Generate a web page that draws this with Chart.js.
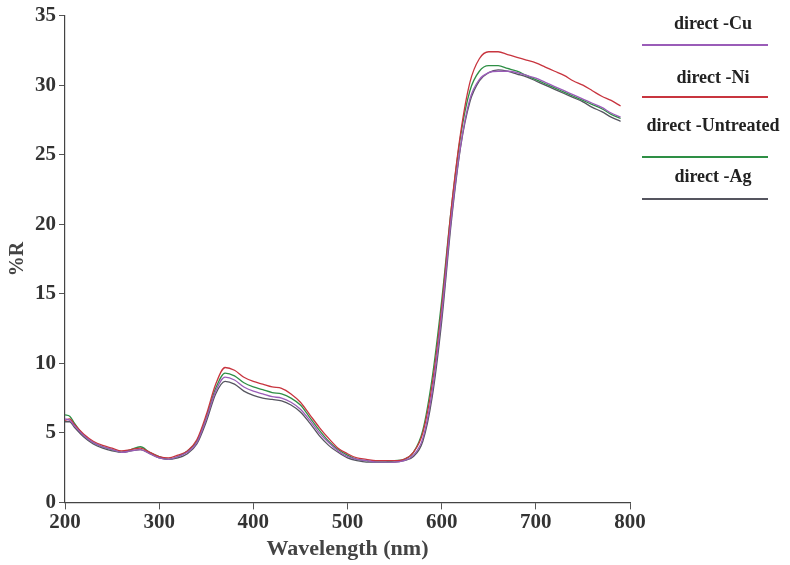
<!DOCTYPE html>
<html>
<head>
<meta charset="utf-8">
<script src="https://cdn.jsdelivr.net/npm/chart.js@4.4.1/dist/chart.umd.min.js"></script>
<style>
  body { margin: 0; background: #fff; }
  #wrap { position: relative; width: 790px; height: 565px; }
  .legtxt { position: absolute; left: 640px; width: 146px; font: bold 18px "Liberation Serif", serif; color: #222; text-align: center; white-space: nowrap; line-height: 20px; }
  .legline { position: absolute; left: 642px; width: 126px; height: 0; border-top: 2px solid; }
</style>
</head>
<body>
<div id="wrap">
  <canvas id="spectra" width="790" height="565"></canvas>
  <div id="legend"></div>
</div>
<script>
const wavelengths = [200,205,210,220,230,240,250,260,270,280,290,300,310,320,330,340,350,360,370,380,390,400,410,420,430,440,450,460,470,480,490,500,510,520,530,540,550,560,570,580,590,600,610,620,630,640,650,660,670,680,690,700,710,720,730,740,750,760,770,780,790];

const seriesNames = ['direct -Cu', 'direct -Ni', 'direct -Untreated', 'direct -Ag'];

const cuR = [6.0,5.9,5.5,4.8,4.3,4.0,3.8,3.6,3.7,3.8,3.5,3.2,3.1,3.3,3.6,4.3,6.0,8.0,9.0,8.8,8.3,8.0,7.8,7.6,7.5,7.2,6.7,5.9,5.0,4.3,3.7,3.3,3.1,3.0,2.9,2.9,2.9,3.0,3.4,4.6,8.0,13.5,20.3,25.6,29.0,30.4,30.9,31.0,31.0,30.9,30.7,30.5,30.2,29.9,29.6,29.3,29.0,28.7,28.4,28.0,27.7];
const niR = [5.9,6.0,5.6,4.9,4.4,4.1,3.9,3.7,3.8,3.9,3.6,3.3,3.2,3.4,3.7,4.5,6.3,8.5,9.7,9.5,9.0,8.7,8.5,8.3,8.2,7.8,7.2,6.3,5.4,4.6,3.9,3.5,3.2,3.1,3.0,3.0,3.0,3.1,3.6,5.0,8.5,14.0,21.0,26.5,30.2,31.9,32.4,32.4,32.2,32.0,31.8,31.6,31.3,31.0,30.7,30.3,30.0,29.6,29.2,28.9,28.5];
const untreatedR = [6.3,6.2,5.7,4.8,4.3,4.0,3.8,3.6,3.8,4.0,3.6,3.3,3.1,3.3,3.7,4.4,6.1,8.2,9.3,9.1,8.6,8.3,8.1,7.9,7.8,7.5,7.0,6.1,5.2,4.4,3.8,3.4,3.1,3.0,2.9,2.9,3.0,3.1,3.6,5.2,9.0,14.5,21.0,26.3,29.6,31.0,31.4,31.4,31.2,31.0,30.7,30.4,30.1,29.8,29.5,29.2,28.9,28.6,28.3,27.9,27.6];
const agR = [5.8,5.8,5.4,4.7,4.2,3.9,3.7,3.6,3.7,3.8,3.5,3.2,3.1,3.2,3.5,4.2,5.8,7.8,8.7,8.5,8.0,7.7,7.5,7.4,7.3,7.0,6.5,5.7,4.8,4.1,3.6,3.2,3.0,2.9,2.9,2.9,2.9,3.0,3.3,4.4,7.6,13.0,20.0,25.5,28.8,30.3,30.9,31.1,31.0,30.8,30.6,30.3,30.0,29.7,29.4,29.1,28.8,28.4,28.1,27.7,27.4];

const xTicks = [200, 300, 400, 500, 600, 700, 800];
const yTicks = [0, 5, 10, 15, 20, 25, 30, 35];

const lineColors = ['#9a5cb8', '#c8353f', '#2e8f45', '#55555f'];
const allSeries = [cuR, niR, untreatedR, agR];

const toPoints = vals => vals.map((v, i) => ({ x: wavelengths[i], y: v }));

const datasets = allSeries.map((vals, i) => ({
  label: seriesNames[i],
  data: toPoints(vals),
  borderColor: lineColors[i],
  borderWidth: 1.3,
  pointRadius: 0,
  fill: false,
  cubicInterpolationMode: 'monotone'
}));

// html legend: name on top, coloured line under it
const legTextTop = [13, 67, 115, 166];
const legLineTop = [44, 96, 156, 198];
const legendBox = document.getElementById('legend');
seriesNames.forEach((name, i) => {
  const t = document.createElement('div');
  t.className = 'legtxt';
  t.style.top = legTextTop[i] + 'px';
  t.textContent = name;
  legendBox.appendChild(t);
  const l = document.createElement('div');
  l.className = 'legline';
  l.style.top = legLineTop[i] + 'px';
  l.style.borderColor = lineColors[i];
  legendBox.appendChild(l);
});

const tickFont = { family: '"Liberation Serif", serif', size: 21, weight: 'bold' };

new Chart(document.getElementById('spectra').getContext('2d'), {
  type: 'line',
  data: { datasets: datasets },
  options: {
    responsive: false,
    animation: false,
    layout: { padding: { left: 6, right: 160, top: 12, bottom: 2 } },
    plugins: { legend: { display: false }, tooltip: { enabled: false } },
    scales: {
      x: {
        type: 'linear',
        min: 200, max: 800,
        afterBuildTicks: s => { s.ticks = xTicks.map(v => ({ value: v })); },
        grid: { drawOnChartArea: false, tickLength: 7, color: '#555' },
        border: { color: '#444', width: 1.2 },
        ticks: { font: tickFont, color: '#333', padding: 1, maxRotation: 0 },
        title: { display: true, text: 'Wavelength (nm)', font: { family: '"Liberation Serif", serif', size: 22, weight: 'bold' }, color: '#444', padding: { top: 0, bottom: 0 } }
      },
      y: {
        min: 0, max: 35,
        afterBuildTicks: s => { s.ticks = yTicks.map(v => ({ value: v })); },
        grid: { drawOnChartArea: false, tickLength: 6, color: '#555' },
        border: { color: '#444', width: 1.2 },
        ticks: { font: tickFont, color: '#333', padding: 3 },
        title: { display: true, text: '%R', font: { family: '"Liberation Serif", serif', size: 20, weight: 'bold' }, color: '#444', padding: { top: 0, bottom: 2 } }
      }
    }
  }
});
</script>
</body>
</html>
